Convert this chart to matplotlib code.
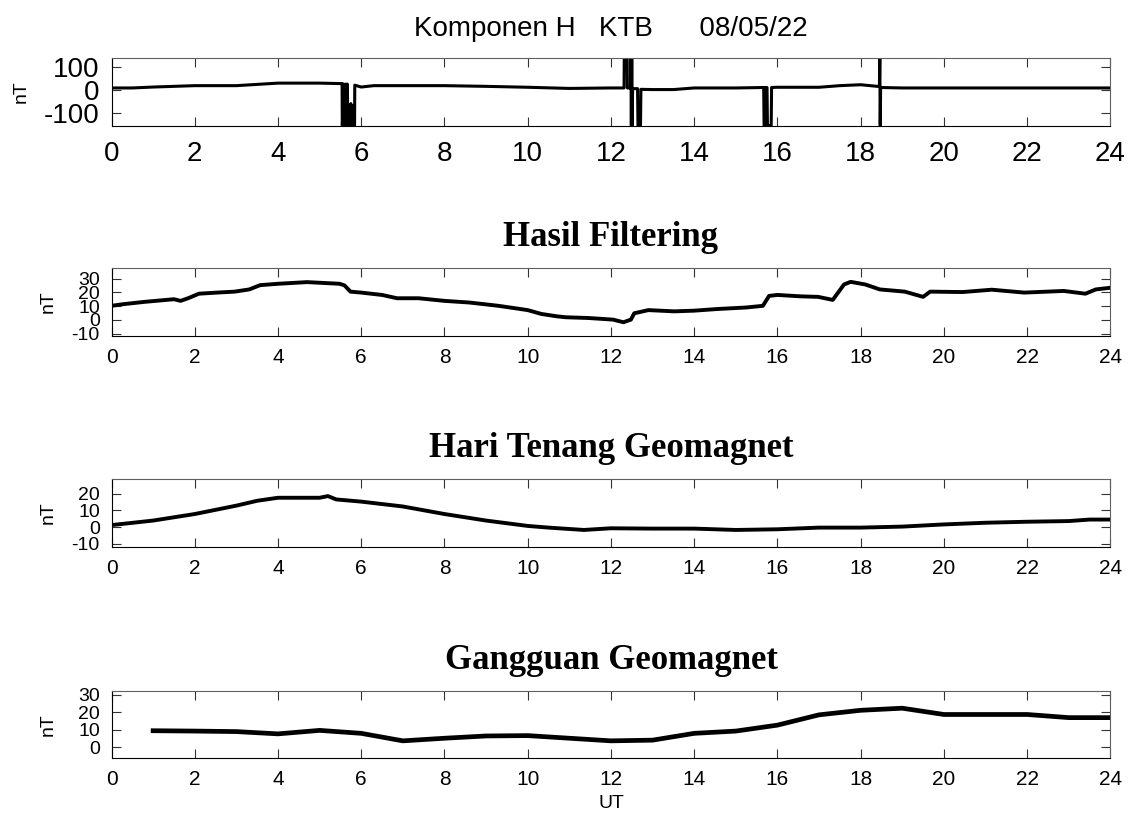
import matplotlib
matplotlib.use('Agg')
import matplotlib.pyplot as plt

# sumbu waktu (UT, jam)
jam_ticks = list(range(0, 25, 2))

# Komponen H mentah (dengan spike)
raw_t = [0, 0.5, 1, 2, 3, 4, 5, 5.5, 5.54,
         5.545, 5.57, 5.575, 5.58, 5.62, 5.625, 5.63, 5.66, 5.665, 5.67,
         5.70, 5.72, 5.75, 5.77, 5.80, 5.82, 5.84, 5.845,
         6.0, 6.3, 8, 9, 10, 11, 12, 12.315,
         12.32, 12.39, 12.395, 12.475, 12.48, 12.49, 12.50, 12.51, 12.52,
         12.64, 12.65, 12.71, 12.72, 13, 13.5, 14, 15, 15.67,
         15.68, 15.70, 15.71, 15.75, 15.76, 15.85, 15.86,
         16, 17, 17.5, 18, 18.4, 18.45, 18.46, 18.47, 18.48,
         19, 20, 21, 22, 23, 24]
raw_h = [8, 8, 12, 18, 18, 29, 29, 27, 27,
         -155, -80, 25, -155, -90, 25, -150, -70, 25, -155,
         -100, -155, -60, -155, -70, -155, -155, 20,
         12, 18, 18, 15, 11, 6, 8, 8,
         138, 138, 8, 8, 138, -155, 138, -155, 5,
         5, -155, -155, 2, 1, 1, 8, 8, 10,
         -155, -155, 10, 10, -155, -155, 10,
         11, 11, 18, 22, 15, 15, 138, -155, 10,
         8, 8, 8, 8, 8, 8]

# Hasil Filtering
filt_t = [0, 0.28, 0.8, 1.5, 1.66, 1.84, 2.1, 2.53, 2.96, 3.31, 3.57, 4.0,
          4.7, 5.48, 5.6, 5.74, 6.0, 6.5, 6.86, 7.38, 8.0, 8.6, 9.3, 10.0,
          10.33, 10.7, 10.92, 11.44, 11.8, 12.05, 12.3, 12.48, 12.56, 12.9,
          13.52, 14.0, 14.56, 15.25, 15.65, 15.8, 16.0, 16.55, 16.98, 17.33,
          17.6, 17.76, 18.11, 18.46, 19.06, 19.5, 19.67, 20.45, 21.15, 21.93,
          22.88, 23.4, 23.65, 24.0]
filt_h = [10.2, 11.4, 13.1, 15.0, 13.8, 15.7, 19.0, 19.8, 20.5, 22.1, 25.2, 26.2,
          27.4, 26.2, 25.0, 20.5, 19.8, 18.1, 15.7, 15.7, 13.8, 12.6, 10.2, 7.1,
          4.3, 2.6, 1.9, 1.4, 0.7, 0.2, -1.7, 0.2, 4.8, 7.1,
          6.2, 6.7, 7.9, 9.0, 10.2, 17.4, 18.1, 17.1, 16.7, 14.5,
          25.7, 27.6, 25.7, 22.1, 20.5, 16.7, 20.5, 20.2, 21.9, 19.8,
          21.0, 19.0, 22.1, 23.3]

# Hari Tenang Geomagnet
sq_t = [0, 1, 2, 3, 3.5, 4, 4.5, 5, 5.2, 5.4, 6, 7, 8, 9, 10, 10.5,
        11.35, 12, 13, 14, 15, 16, 17, 18, 19, 20, 21, 22, 23, 23.5, 24]
sq_h = [1.2, 3.9, 7.8, 12.8, 15.7, 17.5, 17.5, 17.5, 18.5, 16.5, 15.2, 12.3,
        7.8, 3.9, 0.7, -0.3, -1.7, -0.7, -0.9, -0.9, -1.7, -1.3, -0.3, -0.3,
        0.3, 1.6, 2.6, 3.2, 3.6, 4.5, 4.5]

# Gangguan Geomagnet
gg_t = [1, 2, 3, 4, 5, 6, 7, 8, 9, 10, 11, 12, 13, 14, 15, 16, 17, 18, 19,
        20, 21, 22, 23, 24]
gg_h = [9.5, 9.3, 9.0, 7.7, 9.7, 8.0, 3.7, 5.2, 6.5, 6.7, 5.2, 3.7, 4.1, 8.0,
        9.3, 12.7, 18.6, 21.2, 22.4, 18.8, 18.8, 18.8, 17.0, 17.0]

plt.rcParams['font.family'] = ['Liberation Sans', 'DejaVu Sans']
plt.rcParams['axes.unicode_minus'] = False

fig = plt.figure(figsize=(11.32, 8.16), dpi=100)

L, W = 0.0985, 0.8824
ax1 = fig.add_axes([L, 0.8462, W, 0.0827])
ax2 = fig.add_axes([L, 0.5882, W, 0.0833])
ax3 = fig.add_axes([L, 0.3300, W, 0.0826])
ax4 = fig.add_axes([L, 0.0707, W, 0.0828])


def gaya(ax, yticks, fs_x, fs_y, lab_x, xpad):
    ax.set_xlim(0, 24)
    ax.set_xticks(jam_ticks)
    ax.set_yticks(yticks)
    ax.tick_params(direction='in', top=True, right=True, length=6.8,
                   width=0.8, color='#333333')
    ax.tick_params(axis='x', pad=xpad, labelsize=fs_x)
    ax.tick_params(axis='y', pad=8.4, labelsize=fs_y)
    for s in ['top', 'right']:
        ax.spines[s].set_color('#606060')
    ax.set_ylabel('nT', fontsize=14)
    ax.yaxis.set_label_coords(lab_x, 0.5)


ax1.plot(raw_t, raw_h, color='black', lw=2.2)
ax1.set_ylim(min(raw_h), max(raw_h))
gaya(ax1, [-100, 0, 100], 20, 20, -0.082, 11.5)

ax2.plot(filt_t, filt_h, color='black', lw=2.8)
ax2.set_ylim(min(filt_h) - 10, max(filt_h) + 10)
gaya(ax2, [-10, 0, 10, 20, 30], 15, 14, -0.055, 8.6)

ax3.plot(sq_t, sq_h, color='black', lw=2.8)
ax3.set_ylim(min(sq_h) - 10, max(sq_h) + 10)
gaya(ax3, [-10, 0, 10, 20], 15, 14, -0.055, 8.6)

ax4.plot(gg_t, gg_h, color='black', lw=3.4)
ax4.set_ylim(min(gg_h) - 10, max(gg_h) + 10)
gaya(ax4, [0, 10, 20, 30], 15, 14, -0.055, 8.6)
ax4.set_xlabel('UT', fontsize=14, labelpad=4)

cx = L + W / 2
fig.text(cx, 1 - 36 / 816, 'Komponen H   KTB      08/05/22',
         ha='center', va='baseline', fontsize=20)
serif = ['Liberation Serif', 'DejaVu Serif']
fig.text(cx, 1 - 246.5 / 816, 'Hasil Filtering', ha='center', va='baseline',
         fontsize=25, fontweight='bold', family=serif)
fig.text(cx, 1 - 457 / 816, 'Hari Tenang Geomagnet', ha='center',
         va='baseline', fontsize=25, fontweight='bold', family=serif)
fig.text(cx, 1 - 669 / 816, 'Gangguan Geomagnet', ha='center',
         va='baseline', fontsize=25, fontweight='bold', family=serif)

fig.savefig('out.png', dpi=100)
